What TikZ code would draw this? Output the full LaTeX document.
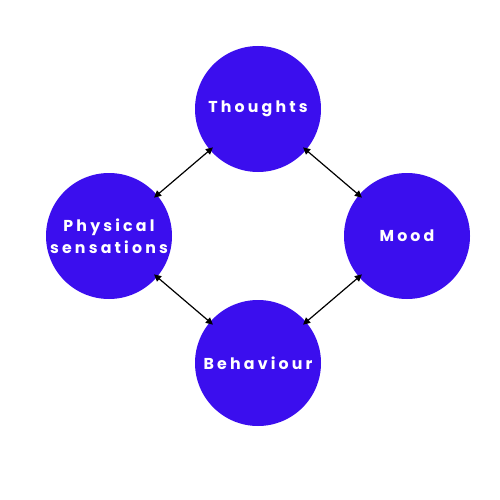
\documentclass[tikz,border=0pt]{standalone}
\usepackage{fontspec}
\setmainfont{Poppins}[UprightFont=* Bold, BoldFont=* Bold, LetterSpace=20]
\usetikzlibrary{arrows.meta}
\definecolor{circ}{HTML}{3B0EEE}
\tikzset{
  bubble/.style={circle, fill=circ, minimum size=126pt, inner sep=0pt, text=white, font=\fontsize{15.8}{22}\selectfont, align=center},
  link/.style={{Triangle[length=7pt,width=7pt]}-{Triangle[length=7pt,width=7pt]}, line width=1.2pt, black, shorten <=-4pt, shorten >=-4pt}
}
\begin{document}
\begin{tikzpicture}[x=1pt,y=-1pt]
\useasboundingbox (0,0) rectangle (500,500);
\node[bubble] (th) at (258,109) {Thoughts};
\node[bubble] (ph) at (109,236) {Physical\\sensations};
\node[bubble] (mo) at (407,236) {Mood};
\node[bubble] (be) at (258,363) {Behaviour};
\draw[link] (th) -- (ph);
\draw[link] (th) -- (mo);
\draw[link] (ph) -- (be);
\draw[link] (mo) -- (be);
\end{tikzpicture}
\end{document}
